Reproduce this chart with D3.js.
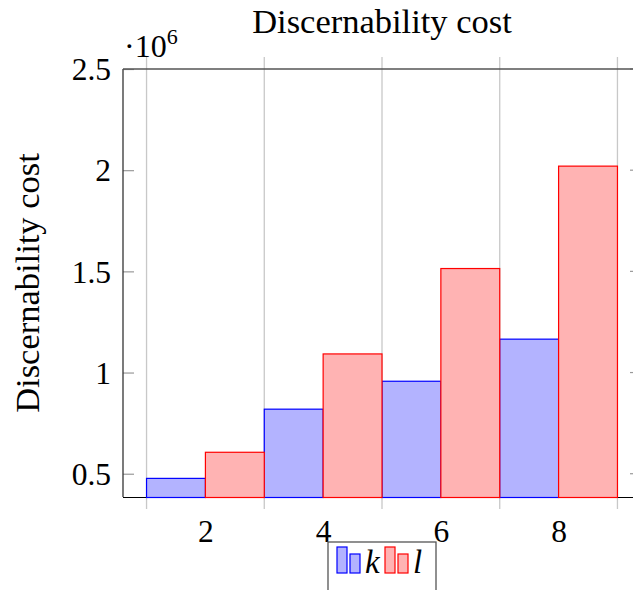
<!DOCTYPE html>
<html>
<head>
<meta charset="utf-8">
<script src="https://cdn.jsdelivr.net/npm/d3@7"></script>
<style>
  body { margin: 0; background: #fff; }
  svg, svg text { font-family: "Liberation Serif", "DejaVu Serif", serif; }
  .domain { display: none; }
</style>
</head>
<body>
<svg id="chart" width="633" height="590"></svg>
<script>
// data (values in units of 10^6)
const categories = [2, 4, 6, 8];
const kValues = [0.477, 0.819, 0.957, 1.165];
const lValues = [0.606, 1.092, 1.514, 2.020];
const yTicks = [0.5, 1, 1.5, 2, 2.5];
const xGrid = [1, 3, 5, 7, 9];
const seriesNames = ['k', 'l'];

const margin = { top: 69, right: -8, bottom: 93, left: 123 };
const W = 633, H = 590;
const svg = d3.select('#chart');

const x = d3.scaleLinear().domain([0.6, 9.4]).range([margin.left, W - margin.right]);
const y = d3.scaleLinear().domain([0.385, 2.5]).range([H - margin.bottom, margin.top]);

const x0 = x.range()[0], x1 = x.range()[1];
const y0 = y.range()[0], y1 = y.range()[1];

// grid lines with small outside ticks
svg.append('g').selectAll('line')
  .data(xGrid)
  .join('line')
  .attr('x1', d => x(d)).attr('x2', d => x(d))
  .attr('y1', y1 - 12).attr('y2', y0 + 12)
  .attr('stroke', '#c8c8c8')
  .attr('stroke-width', 1.3);

// y ticks (inside, both sides)
const yAxis = d3.axisLeft(y).tickValues(yTicks).tickSize(-11).tickPadding(12)
  .tickFormat(d => d3.format('')(d));
const gY = svg.append('g').attr('transform', `translate(${x0},0)`).call(yAxis)
  .attr('font-family', null).attr('font-size', 31.5);
gY.selectAll('line').attr('stroke', '#999').attr('stroke-width', 1.2);
gY.selectAll('text').attr('fill', '#000').attr('dy', '0.34em');

svg.append('g').selectAll('line')
  .data(yTicks)
  .join('line')
  .attr('x1', x1 - 11).attr('x2', x1)
  .attr('y1', d => y(d)).attr('y2', d => y(d))
  .attr('stroke', '#999').attr('stroke-width', 1.2);

// x labels at the categories, no ticks
const xAxis = d3.axisBottom(x).tickValues(categories).tickSize(0).tickPadding(23);
const gX = svg.append('g').attr('transform', `translate(0,${y0})`).call(xAxis)
  .attr('font-family', null).attr('font-size', 31.5);
gX.selectAll('text').attr('fill', '#000');

// frame
svg.append('line').attr('x1', x0).attr('x2', x0).attr('y1', y1).attr('y2', y0)
  .attr('stroke', '#333').attr('stroke-width', 1.3);
svg.append('line').attr('x1', x0).attr('x2', x1).attr('y1', y1).attr('y2', y1)
  .attr('stroke', '#555').attr('stroke-width', 1.3);
svg.append('line').attr('x1', x0).attr('x2', x1).attr('y1', y0 + 0.5).attr('y2', y0 + 0.5)
  .attr('stroke', '#000').attr('stroke-width', 1);

// bars
const series = [
  { name: seriesNames[0], values: kValues, off: -1, fill: '#b3b3ff', stroke: '#0000ff' },
  { name: seriesNames[1], values: lValues, off: 0, fill: '#ffb3b3', stroke: '#ff0000' },
];
series.forEach(s => {
  svg.append('g').selectAll('rect')
    .data(categories.map((c, i) => ({ c, v: s.values[i] })))
    .join('rect')
    .attr('x', d => x(d.c + s.off))
    .attr('width', d => x(d.c + s.off + 1) - x(d.c + s.off))
    .attr('y', d => y(d.v))
    .attr('height', d => y0 + 0.5 - y(d.v))
    .attr('fill', s.fill)
    .attr('stroke', s.stroke)
    .attr('stroke-width', 1.2);
});

// title, y label, scale label
svg.append('text')
  .attr('x', (x0 + x1) / 2).attr('y', 33)
  .attr('text-anchor', 'middle').attr('font-size', 34.5)
  .text('Discernability cost');

svg.append('text')
  .attr('transform', `translate(39,${(y0 + y1) / 2}) rotate(-90)`)
  .attr('text-anchor', 'middle').attr('font-size', 34.5)
  .text('Discernability cost');

const sc = svg.append('text').attr('x', 124).attr('y', 57).attr('font-size', 32);
sc.append('tspan').text('\u00b710');
sc.append('tspan').attr('font-size', 22).attr('dy', -13).text('6');

// legend
const lg = svg.append('g').attr('transform', 'translate(328,542)');
lg.append('rect').attr('x', 0).attr('y', 0).attr('width', 108).attr('height', 60)
  .attr('fill', '#fff').attr('stroke', '#555').attr('stroke-width', 1.3);
series.forEach((s, i) => {
  const gx = 9 + i * 48;
  lg.append('rect').attr('x', gx).attr('y', 5).attr('width', 10).attr('height', 26)
    .attr('fill', s.fill).attr('stroke', s.stroke).attr('stroke-width', 1.2);
  lg.append('rect').attr('x', gx + 13).attr('y', 12).attr('width', 10).attr('height', 19)
    .attr('fill', s.fill).attr('stroke', s.stroke).attr('stroke-width', 1.2);
  lg.append('text').attr('x', gx + 28).attr('y', 31)
    .attr('font-size', 33).attr('font-style', 'italic')
    .text(s.name);
});
</script>
</body>
</html>
